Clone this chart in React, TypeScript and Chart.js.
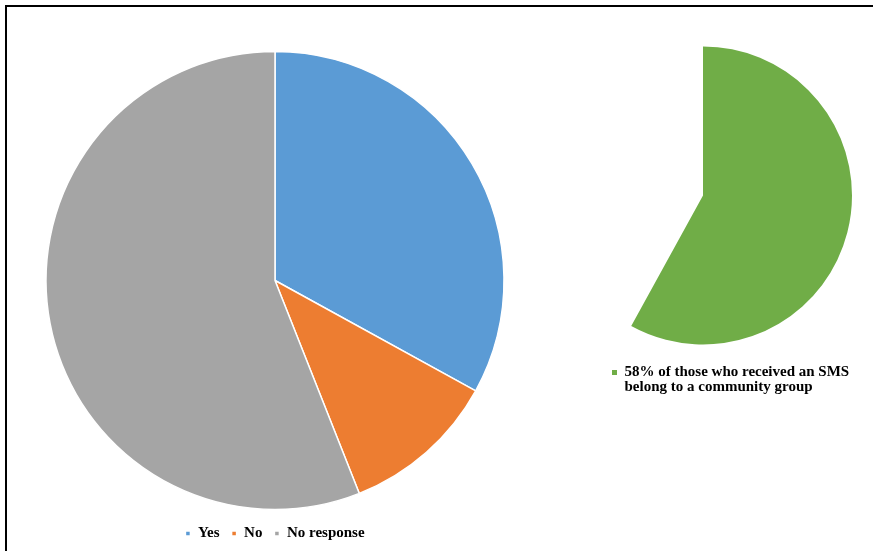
import React, { useEffect, useRef } from "react";
import { Chart, registerables } from "chart.js";

Chart.register(...registerables);

const responseLabels = ["Yes", "No", "No response"];
const responseValues = [33, 11, 56];
const responseColors = ["#5B9BD5", "#ED7D31", "#A5A5A5"];

const groupLabels = ["Belong to a community group", "Other"];
const groupValues = [58, 42];
const groupColors = ["#70AD47", "rgba(255,255,255,0)"];
const groupLegendLines = [
  "58% of those who received an SMS",
  "belong to a community group",
];

const FONT = "'Liberation Serif', 'Times New Roman', serif";

// Give multi-line legend items enough room so the second line is not clipped.
const legendExtraHeight = {
  id: "legendExtraHeight",
  beforeUpdate(chart: any) {
    const lg = chart.legend;
    if (lg && !lg.__patched) {
      const orig = lg.fit;
      lg.fit = function (this: any) {
        orig.call(this);
        this.height += 20;
      };
      lg.__patched = true;
    }
  },
};

export default function App() {
  const ref1 = useRef<HTMLCanvasElement | null>(null);
  const ref2 = useRef<HTMLCanvasElement | null>(null);

  useEffect(() => {
    const c1 = new Chart(ref1.current!, {
      type: "pie",
      data: {
        labels: responseLabels,
        datasets: [
          {
            data: responseValues,
            backgroundColor: responseColors,
            borderColor: "#ffffff",
            borderWidth: 1.5,
          },
        ],
      },
      options: {
        responsive: false,
        animation: false,
        radius: 229,
        layout: { padding: { top: 47, bottom: 0, left: 0, right: 0 } },
        plugins: {
          tooltip: { enabled: false },
          legend: {
            position: "bottom",
            labels: {
              boxWidth: 5,
              boxHeight: 5,
              padding: 12,
              color: "#000",
              font: { family: FONT, size: 15, weight: "bold" },
            },
          },
        },
      } as any,
    });

    const c2 = new Chart(ref2.current!, {
      type: "pie",
      data: {
        labels: groupLabels,
        datasets: [
          {
            data: groupValues,
            backgroundColor: groupColors,
            borderWidth: 0,
            clip: false,
          } as any,
        ],
      },
      options: {
        responsive: false,
        animation: false,
        radius: 149,
        layout: { padding: { top: 86, bottom: 0, left: 12, right: 19 } },
        plugins: {
          tooltip: { enabled: false },
          legend: {
            position: "bottom",
            align: "start",
            labels: {
              boxWidth: 5,
              boxHeight: 5,
              padding: 60,
              color: "#000",
              font: { family: FONT, size: 15, weight: "bold", lineHeight: 1.0 },
              generateLabels: () => [
                {
                  text: groupLegendLines,
                  fillStyle: groupColors[0],
                  strokeStyle: groupColors[0],
                  lineWidth: 0,
                  hidden: false,
                  index: 0,
                  datasetIndex: 0,
                  fontColor: "#000",
                } as any,
              ],
            },
          },
        },
      } as any,
      plugins: [legendExtraHeight],
    });

    return () => {
      c1.destroy();
      c2.destroy();
    };
  }, []);

  return (
    <div
      style={{
        position: "fixed",
        left: 0,
        top: 0,
        width: 873,
        height: 551,
        background: "#fff",
        overflow: "hidden",
      }}
    >
      <div
        style={{
          position: "absolute",
          left: 5,
          top: 5,
          width: 868,
          height: 546,
          borderTop: "2px solid #000",
          borderLeft: "2px solid #000",
          boxSizing: "border-box",
        }}
      />
      <canvas
        ref={ref1}
        width={550}
        height={551}
        style={{ position: "absolute", left: 0, top: 0 }}
      />
      <canvas
        ref={ref2}
        width={333}
        height={410}
        style={{ position: "absolute", left: 540, top: 0 }}
      />
    </div>
  );
}
